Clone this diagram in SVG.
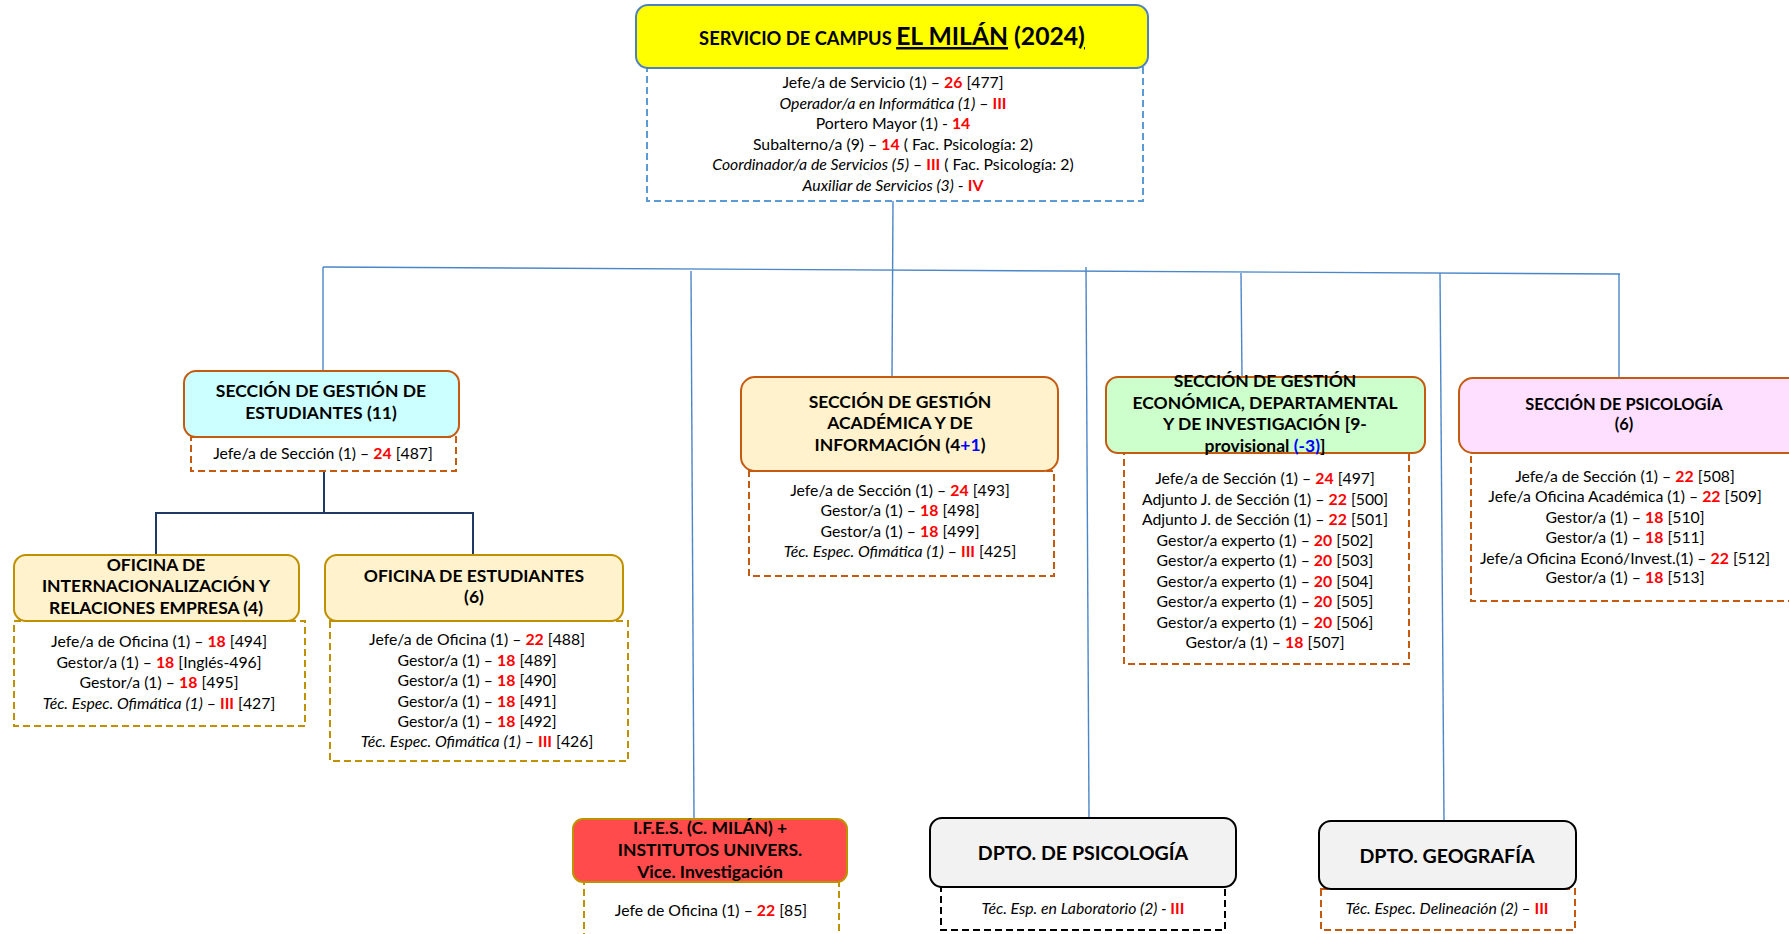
<svg xmlns="http://www.w3.org/2000/svg" width="1789" height="934" viewBox="0 0 1789 934">
<style>
text{font-family:Lato,"Open Sans","Liberation Sans",sans-serif;text-anchor:middle;fill:#000}
.b{font-size:15.8px}
.h{font-size:17.5px;font-weight:bold}
.hs{font-size:16.4px;font-weight:bold}
.hl{font-size:19.6px;font-weight:bold}
.r{fill:#ff0000;font-weight:bold}
.bl{fill:#0000ff}
.i{font-style:italic}
.hd{stroke-width:2}
.dash{fill:#fff;stroke-width:2;stroke-dasharray:7 4}
.con{stroke:#4a86c8;stroke-width:1.4;fill:none}
</style>
<rect width="1789" height="934" fill="#fff"/>
<g id="connectors">
<line class="con" x1="893" y1="201" x2="892" y2="377"/>
<line class="con" x1="323" y1="267" x2="1620" y2="274"/>
<line class="con" x1="323" y1="267" x2="323" y2="371"/>
<line class="con" x1="691" y1="271" x2="694" y2="819"/>
<line class="con" x1="1086" y1="267" x2="1089" y2="817"/>
<line class="con" x1="1241" y1="273" x2="1242" y2="377"/>
<line class="con" x1="1440" y1="273" x2="1444" y2="821"/>
<line class="con" x1="1619" y1="274" x2="1619" y2="378"/>
<path d="M324 471V513M156 555V513H473V555" fill="none" stroke="#1f3864" stroke-width="2"/>
</g>
<g id="servicio">
<rect x="647" y="68" width="496" height="133" class="dash" stroke="#5b9bd5"/>
<rect x="636" y="5" width="512" height="63" rx="12" fill="#ffff00" stroke="#4f81bd" stroke-width="2"/>
<text y="45" font-weight="bold"><tspan x="892" font-size="18.3">SERVICIO DE CAMPUS </tspan><tspan font-size="24.7" text-decoration="underline">EL MILÁN</tspan><tspan font-size="24.7"> (2024</tspan><tspan font-size="24.7" text-decoration="underline">)</tspan></text>
<text class="b" x="893" y="88">Jefe/a de Servicio (1) – <tspan class="r">26</tspan> [477]</text>
<text class="b" x="893" y="108.5"><tspan class="i">Operador/a en Informática (1)</tspan> – <tspan class="r">III</tspan></text>
<text class="b" x="893" y="129">Portero Mayor (1) - <tspan class="r">14</tspan></text>
<text class="b" x="893" y="149.5">Subalterno/a (9) – <tspan class="r">14</tspan> ( Fac. Psicología: 2)</text>
<text class="b" x="893" y="170"><tspan class="i">Coordinador/a de Servicios (5)</tspan> – <tspan class="r">III</tspan> ( Fac. Psicología: 2)</text>
<text class="b" x="893" y="190.5"><tspan class="i">Auxiliar de Servicios (3)</tspan> - <tspan class="r">IV</tspan></text>
</g>
<g id="sge">
<rect x="191" y="437" width="265" height="34" class="dash" stroke="#c55a11"/>
<rect x="184" y="371" width="275" height="66" rx="12" fill="#ccffff" stroke="#c55a11" class="hd"/>
<text class="h" x="321" y="397">SECCIÓN DE GESTIÓN DE</text>
<text class="h" x="321" y="419">ESTUDIANTES (11)</text>
<text class="b" x="323" y="459">Jefe/a de Sección (1) – <tspan class="r">24</tspan> [487]</text>
</g>
<g id="oire">
<rect x="14" y="621" width="291" height="105" class="dash" stroke="#bf9000"/>
<rect x="14" y="555" width="285" height="66" rx="12" fill="#fff2cc" stroke="#bf9000" class="hd"/>
<text class="h" x="156" y="571">OFICINA DE</text>
<text class="h" x="156" y="592">INTERNACIONALIZACIÓN Y</text>
<text class="h" x="156" y="614">RELACIONES EMPRESA (4)</text>
<text class="b" x="159" y="647">Jefe/a de Oficina (1) – <tspan class="r">18</tspan> [494]</text>
<text class="b" x="159" y="668">Gestor/a (1) – <tspan class="r">18</tspan> [Inglés-496]</text>
<text class="b" x="159" y="688">Gestor/a (1) – <tspan class="r">18</tspan> [495]</text>
<text class="b" x="159" y="709"><tspan class="i">Téc. Espec. Ofimática (1)</tspan> – <tspan class="r">III</tspan> [427]</text>
</g>
<g id="oe">
<rect x="330" y="621" width="298" height="140" class="dash" stroke="#bf9000"/>
<rect x="325" y="555" width="298" height="66" rx="12" fill="#fff2cc" stroke="#bf9000" class="hd"/>
<text class="h" x="474" y="582">OFICINA DE ESTUDIANTES</text>
<text class="h" x="474" y="603">(6)</text>
<text class="b" x="477" y="645">Jefe/a de Oficina (1) – <tspan class="r">22</tspan> [488]</text>
<text class="b" x="477" y="666">Gestor/a (1) – <tspan class="r">18</tspan> [489]</text>
<text class="b" x="477" y="686">Gestor/a (1) – <tspan class="r">18</tspan> [490]</text>
<text class="b" x="477" y="707">Gestor/a (1) – <tspan class="r">18</tspan> [491]</text>
<text class="b" x="477" y="727">Gestor/a (1) – <tspan class="r">18</tspan> [492]</text>
<text class="b" x="477" y="747"><tspan class="i">Téc. Espec. Ofimática (1)</tspan> – <tspan class="r">III</tspan> [426]</text>
</g>
<g id="sga">
<rect x="749" y="471" width="305" height="105" class="dash" stroke="#c55a11"/>
<rect x="741" y="377" width="317" height="94" rx="14" fill="#fff2cc" stroke="#c55a11" class="hd"/>
<text class="h" x="900" y="408">SECCIÓN DE GESTIÓN</text>
<text class="h" x="900" y="429">ACADÉMICA Y DE</text>
<text class="h" x="900" y="451">INFORMACIÓN (4<tspan class="bl">+1</tspan>)</text>
<text class="b" x="900" y="496">Jefe/a de Sección (1) – <tspan class="r">24</tspan> [493]</text>
<text class="b" x="900" y="516">Gestor/a (1) – <tspan class="r">18</tspan> [498]</text>
<text class="b" x="900" y="537">Gestor/a (1) – <tspan class="r">18</tspan> [499]</text>
<text class="b" x="900" y="557"><tspan class="i">Téc. Espec. Ofimática (1)</tspan> – <tspan class="r">III</tspan> [425]</text>
</g>
<g id="sgedi">
<rect x="1124" y="453" width="285" height="211" class="dash" stroke="#c55a11"/>
<rect x="1106" y="377" width="319" height="76" rx="12" fill="#ccffcc" stroke="#c55a11" class="hd"/>
<text class="h" x="1265" y="387">SECCIÓN DE GESTIÓN</text>
<text class="h" x="1265" y="409">ECONÓMICA, DEPARTAMENTAL</text>
<text class="h" x="1265" y="430">Y DE INVESTIGACIÓN [9-</text>
<text class="h" x="1265" y="452">provisional <tspan class="bl">(-3)</tspan>]</text>
<text class="b" x="1265" y="484">Jefe/a de Sección (1) – <tspan class="r">24</tspan> [497]</text>
<text class="b" x="1265" y="505">Adjunto J. de Sección (1) – <tspan class="r">22</tspan> [500]</text>
<text class="b" x="1265" y="525">Adjunto J. de Sección (1) – <tspan class="r">22</tspan> [501]</text>
<text class="b" x="1265" y="546">Gestor/a experto (1) – <tspan class="r">20</tspan> [502]</text>
<text class="b" x="1265" y="566">Gestor/a experto (1) – <tspan class="r">20</tspan> [503]</text>
<text class="b" x="1265" y="587">Gestor/a experto (1) – <tspan class="r">20</tspan> [504]</text>
<text class="b" x="1265" y="607">Gestor/a experto (1) – <tspan class="r">20</tspan> [505]</text>
<text class="b" x="1265" y="628">Gestor/a experto (1) – <tspan class="r">20</tspan> [506]</text>
<text class="b" x="1265" y="648">Gestor/a (1) – <tspan class="r">18</tspan> [507]</text>
</g>
<g id="sp">
<rect x="1471" y="453" width="330" height="148" class="dash" stroke="#c55a11"/>
<rect x="1459" y="378" width="345" height="75" rx="14" fill="#ffdfff" stroke="#c55a11" class="hd"/>
<text class="hs" x="1624" y="410">SECCIÓN DE PSICOLOGÍA</text>
<text class="hs" x="1624" y="430">(6)</text>
<text class="b" x="1625" y="482">Jefe/a de Sección (1) – <tspan class="r">22</tspan> [508]</text>
<text class="b" x="1625" y="502">Jefe/a Oficina Académica (1) – <tspan class="r">22</tspan> [509]</text>
<text class="b" x="1625" y="523">Gestor/a (1) – <tspan class="r">18</tspan> [510]</text>
<text class="b" x="1625" y="543">Gestor/a (1) – <tspan class="r">18</tspan> [511]</text>
<text class="b" x="1625" y="564">Jefe/a Oficina Econó/Invest.(1) – <tspan class="r">22</tspan> [512]</text>
<text class="b" x="1625" y="583">Gestor/a (1) – <tspan class="r">18</tspan> [513]</text>
</g>
<g id="ifes">
<rect x="584" y="882" width="255" height="60" class="dash" stroke="#bf9000"/>
<rect x="573" y="819" width="274" height="63" rx="10" fill="#ff4b4b" stroke="#bf9000" class="hd"/>
<text class="h" x="710" y="834">I.F.E.S. (C. MILÁN) +</text>
<text class="h" x="710" y="856">INSTITUTOS UNIVERS.</text>
<text class="h" x="710" y="878">Vice. Investigación</text>
<text class="b" x="711" y="916">Jefe de Oficina (1) – <tspan class="r">22</tspan> [85]</text>
</g>
<g id="dpto-psicologia">
<rect x="941" y="887" width="284" height="43" class="dash" stroke="#000"/>
<rect x="930" y="818" width="306" height="69" rx="12" fill="#f2f2f2" stroke="#000" class="hd"/>
<text class="hl" x="1083" y="860">DPTO. DE PSICOLOGÍA</text>
<text class="b" x="1083" y="914"><tspan class="i">Téc. Esp. en Laboratorio (2) - </tspan><tspan class="r">III</tspan></text>
</g>
<g id="dpto-geografia">
<rect x="1321" y="889" width="254" height="41" class="dash" stroke="#c55a11"/>
<rect x="1319" y="821" width="257" height="68" rx="12" fill="#f2f2f2" stroke="#000" class="hd"/>
<text class="hl" x="1447" y="863">DPTO. GEOGRAFÍA</text>
<text class="b" x="1447" y="914"><tspan class="i">Téc. Espec. Delineación (2) – </tspan><tspan class="r">III</tspan></text>
</g>
</svg>
